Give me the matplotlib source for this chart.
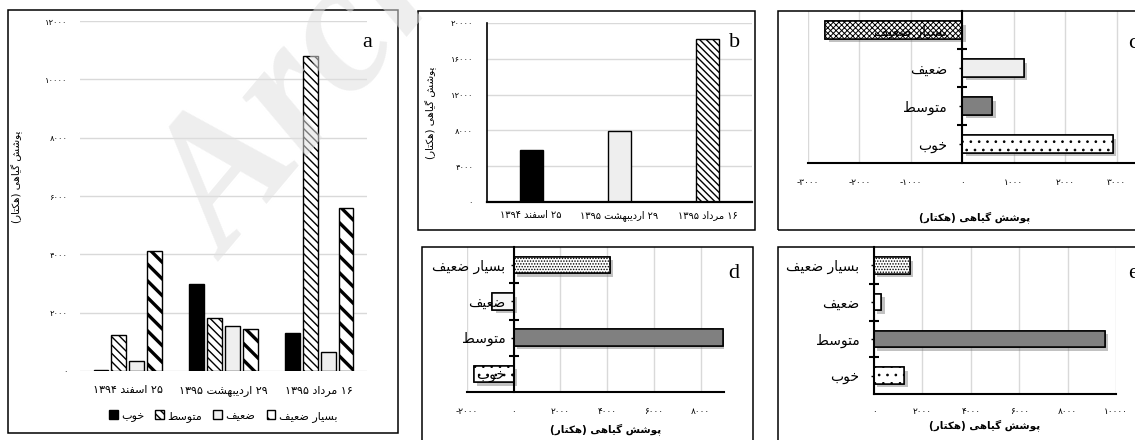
import matplotlib
matplotlib.use('Agg')
import numpy as np
import matplotlib.pyplot as plt
import matplotlib.patheffects as pe
from matplotlib.patches import Rectangle

# Data (hectares of vegetation cover per class)
dates = ['۲۵ اسفند ۱۳۹۴', '۲۹ اردیبهشت ۱۳۹۵', '۱۶ مرداد ۱۳۹۵']
classes = ['خوب', 'متوسط', 'ضعیف', 'بسیار ضعیف']
good = [30, 3000, 1300]
medium = [1230, 1830, 10800]
weak = [350, 1560, 650]
veryWeak = [4100, 1450, 5600]
total = [5800, 7900, 18200]
# change per class, order = classes
changeC = [2930, 580, 1200, -2660]
changeD = [-1700, 8950, -920, 4100]
changeE = [1260, 9540, 300, 1470]
yLab = 'پوشش گیاهی (هکتار)'

W, H = 1135, 440
plt.rcParams['font.family'] = ['DejaVu Sans']
plt.rcParams['axes.unicode_minus'] = False

# --- minimal Persian shaping (matplotlib has no complex text layout) ---
FORMS = {  # isolated, final, initial, medial
    'ا': ('\uFE8D', '\uFE8E', None, None),
    'ب': ('\uFE8F', '\uFE90', '\uFE91', '\uFE92'),
    'پ': ('\uFB56', '\uFB57', '\uFB58', '\uFB59'),
    'ت': ('\uFE95', '\uFE96', '\uFE97', '\uFE98'),
    'خ': ('\uFEA5', '\uFEA6', '\uFEA7', '\uFEA8'),
    'د': ('\uFEA9', '\uFEAA', None, None),
    'ر': ('\uFEAD', '\uFEAE', None, None),
    'س': ('\uFEB1', '\uFEB2', '\uFEB3', '\uFEB4'),
    'ش': ('\uFEB5', '\uFEB6', '\uFEB7', '\uFEB8'),
    'ض': ('\uFEBD', '\uFEBE', '\uFEBF', '\uFEC0'),
    'ط': ('\uFEC1', '\uFEC2', '\uFEC3', '\uFEC4'),
    'ع': ('\uFEC9', '\uFECA', '\uFECB', '\uFECC'),
    'ف': ('\uFED1', '\uFED2', '\uFED3', '\uFED4'),
    'ک': ('\uFB8E', '\uFB8F', '\uFB90', '\uFB91'),
    'گ': ('\uFB92', '\uFB93', '\uFB94', '\uFB95'),
    'م': ('\uFEE1', '\uFEE2', '\uFEE3', '\uFEE4'),
    'ن': ('\uFEE5', '\uFEE6', '\uFEE7', '\uFEE8'),
    'ه': ('\uFEE9', '\uFEEA', '\uFEEB', '\uFEEC'),
    'و': ('\uFEED', '\uFEEE', None, None),
    'ی': ('\uFBFC', '\uFBFD', '\uFBFE', '\uFBFF'),
}
FA_DIGITS = '۰۱۲۳۴۵۶۷۸۹'
MIRROR = str.maketrans('()', ')(')


def fa(text):
    out = []
    for w in text.split(' '):
        if all(c in FA_DIGITS for c in w):
            out.append(w)
            continue
        shaped = []
        for i, c in enumerate(w):
            if c not in FORMS:
                shaped.append(c)
                continue
            prev = w[i - 1] if i > 0 else ''
            nxt = w[i + 1] if i + 1 < len(w) else ''
            jp = prev in FORMS and FORMS[prev][2] is not None
            jn = FORMS[c][2] is not None and nxt in FORMS
            iso, fin, ini, med = FORMS[c]
            shaped.append(med if (jp and jn) else fin if jp else ini if jn else iso)
        out.append(''.join(reversed(shaped)).translate(MIRROR))
    return ' '.join(reversed(out))


def faNum(v):
    return str(int(v)).translate(str.maketrans('0123456789', FA_DIGITS))


fig = plt.figure(figsize=(W / 100, H / 100), dpi=100)


def pxAxes(left, top, right, bottom):
    return fig.add_axes([left / W, 1 - bottom / H, (right - left) / W, (bottom - top) / H])


def pxBox(left, top, right, bottom):
    fig.patches.append(Rectangle((left / W, 1 - bottom / H), (right - left) / W, (bottom - top) / H,
                                 transform=fig.transFigure, fill=False, edgecolor='black', linewidth=1.1))


def hatchLw(bars, lw):
    for b in bars:
        if hasattr(b, 'set_hatch_linewidth'):
            b.set_hatch_linewidth(lw)


# ---------------- panel a ----------------
pxBox(8, 10, 398, 433)
axA = pxAxes(80, 21, 367, 371)
x = np.arange(len(dates))
offs = [-0.28, -0.094, 0.094, 0.28]
seriesA = [good, medium, weak, veryWeak]
styleA = [dict(facecolor='black', hatch=None, hlw=1.0),
          dict(facecolor='white', hatch='\\\\\\\\', hlw=1.0),
          dict(facecolor='#efefef', hatch=None, hlw=1.0),
          dict(facecolor='white', hatch='\\\\', hlw=2.4)]
for vals, off, st, lab in zip(seriesA, offs, styleA, classes):
    bars = axA.bar(x + off, vals, width=0.155, facecolor=st['facecolor'], edgecolor='black',
                   linewidth=1.0, hatch=st['hatch'], label=fa(lab), zorder=2)
    hatchLw(bars, st['hlw'])
axA.set_xlim(-0.5, 2.5)
axA.set_ylim(0, 12000)
axA.set_yticks(np.arange(0, 12001, 2000))
axA.set_yticklabels([faNum(v) for v in np.arange(0, 12001, 2000)], fontsize=6)
axA.set_xticks(x)
axA.set_xticklabels([fa(d) for d in dates], fontsize=8)
axA.tick_params(axis='y', length=0, pad=9)
axA.tick_params(axis='x', length=0, pad=10)
axA.yaxis.grid(True, color='#d9d9d9', linewidth=1)
axA.set_axisbelow(True)
for s in axA.spines.values():
    s.set_visible(False)
axA.set_ylabel(fa(yLab), fontsize=7.5)
axA.yaxis.set_label_coords(-0.2, 0.555)
axA.text(1.0, 0.94, 'a', transform=axA.transAxes, fontsize=16, family='Liberation Serif',
         ha='center', va='center')
fig.legend(*axA.get_legend_handles_labels(), loc='center', bbox_to_anchor=(223 / W, 24 / H), ncol=4,
           frameon=False, fontsize=8, handlelength=0.8, handleheight=0.8, handletextpad=0.3,
           columnspacing=1.0)

# ---------------- panel b ----------------
pxBox(418, 11, 755, 230)
axB = pxAxes(487, 23, 752, 202)
styleB = [dict(facecolor='black', hatch=None), dict(facecolor='#eeeeee', hatch=None),
          dict(facecolor='white', hatch='\\\\\\\\\\')]
bars = axB.bar(x, total, width=0.26, edgecolor='black', linewidth=1.0, zorder=2)
for b, st in zip(bars, styleB):
    b.set_facecolor(st['facecolor'])
    b.set_hatch(st['hatch'])
hatchLw(bars, 1.0)
axB.set_xlim(-0.5, 2.5)
axB.set_ylim(0, 20000)
axB.set_yticks(np.arange(0, 20001, 4000))
axB.set_yticklabels([faNum(v) for v in np.arange(0, 20001, 4000)], fontsize=6)
axB.set_xticks(x)
axB.set_xticklabels([fa(d) for d in dates], fontsize=7)
axB.tick_params(axis='y', length=0, pad=10)
axB.tick_params(axis='x', length=0, pad=6)
axB.yaxis.grid(True, color='#d9d9d9', linewidth=1)
axB.set_axisbelow(True)
axB.spines['top'].set_visible(False)
axB.spines['right'].set_visible(False)
axB.spines['left'].set_linewidth(1.2)
axB.spines['bottom'].set_linewidth(1.6)
axB.set_ylabel(fa(yLab), fontsize=7.5)
axB.yaxis.set_label_coords(-0.19, 0.5)
axB.text(0.935, 0.89, 'b', transform=axB.transAxes, fontsize=16, family='Liberation Serif',
         ha='center', va='center')


# ---------------- panels c, d, e ----------------
def changePanel(rect, vals, xlim, xticks, styles, labPad, xPad, xlabPos, letterPos, letter):
    ax = pxAxes(*rect)
    ypos = np.arange(len(classes))
    shadow = [pe.withSimplePatchShadow(offset=(2.5, -2.5), shadow_rgbFace='#777777', alpha=0.45, hatch=None),
              pe.Normal()]
    bars = ax.barh(ypos, vals, height=0.45, edgecolor='black', linewidth=1.1, zorder=2)
    for b, st in zip(bars, styles):
        b.set_facecolor(st[0])
        b.set_hatch(st[1])
        b.set_path_effects(shadow)
    hatchLw(bars, 0.7)
    ax.set_ylim(-0.5, len(classes) - 0.5)
    ax.set_xlim(*xlim)
    ax.set_yticks(ypos)
    ax.set_yticklabels([fa(c) for c in classes], fontsize=10.5, fontweight='bold')
    for t in ax.get_yticklabels():
        t.set_path_effects([pe.withStroke(linewidth=0.7, foreground='black')])
    ax.set_yticks(ypos[:-1] + 0.5, minor=True)
    ax.tick_params(axis='y', which='major', direction='out', length=2, width=1, pad=labPad)
    ax.tick_params(axis='y', which='minor', direction='inout', length=7, width=1.5)
    ax.set_xticks(xticks)
    ax.set_xticklabels([('-' + faNum(-v)) if v < 0 else faNum(v) for v in xticks], fontsize=6.5)
    ax.tick_params(axis='x', length=0, pad=xPad)
    ax.xaxis.grid(True, color='#d9d9d9', linewidth=1)
    ax.set_axisbelow(True)
    ax.yaxis.set_zorder(3)
    ax.spines['left'].set_position(('data', 0))
    ax.spines['left'].set_linewidth(1.5)
    ax.spines['bottom'].set_linewidth(1.5)
    ax.spines['top'].set_visible(False)
    ax.spines['right'].set_visible(False)
    fig.text(xlabPos[0] / W, 1 - xlabPos[1] / H, fa(yLab), fontsize=7.5, fontweight='bold',
             ha='center', va='center')
    fig.text(letterPos[0] / W, 1 - letterPos[1] / H, letter, fontsize=16, family='Liberation Serif',
             ha='left', va='center')
    return ax


styleC = [('white', '..'), ('#808080', None), ('#eeeeee', None), ('white', 'xxxxxx')]
styleD = [('white', '..'), ('#808080', None), ('#f8f8f8', None), ('white', '......')]
styleE = [('white', '..'), ('#808080', None), ('white', None), ('white', '......')]

pxBox(778, 11, 1200, 230)
changePanel((808, 11, 1168, 163), changeC, (-3000, 4000), np.arange(-3000, 3001, 1000), styleC,
            9, 11, (975, 217), (1128, 43), 'c')
pxBox(422, 247, 753, 460)
changePanel((467, 247, 724, 392), changeD, (-2000, 9000), np.arange(-2000, 8001, 2000), styleD,
            4, 11, (606, 429), (728, 273), 'd')
pxBox(778, 247, 1200, 460)
changePanel((874, 247, 1116, 394), changeE, (0, 10000), np.arange(0, 10001, 2000), styleE,
            8.5, 9.5, (985, 425), (1128, 273), 'e')

# faint watermark over the figure
fig.text(228 / W, 1 - 262 / H, 'Archive', fontsize=135, family='Liberation Serif', style='italic',
         fontweight='bold', color='#e0e0e0', alpha=0.55, rotation=50, rotation_mode='anchor',
         ha='left', va='baseline')

fig.savefig('out.png', dpi=100)
